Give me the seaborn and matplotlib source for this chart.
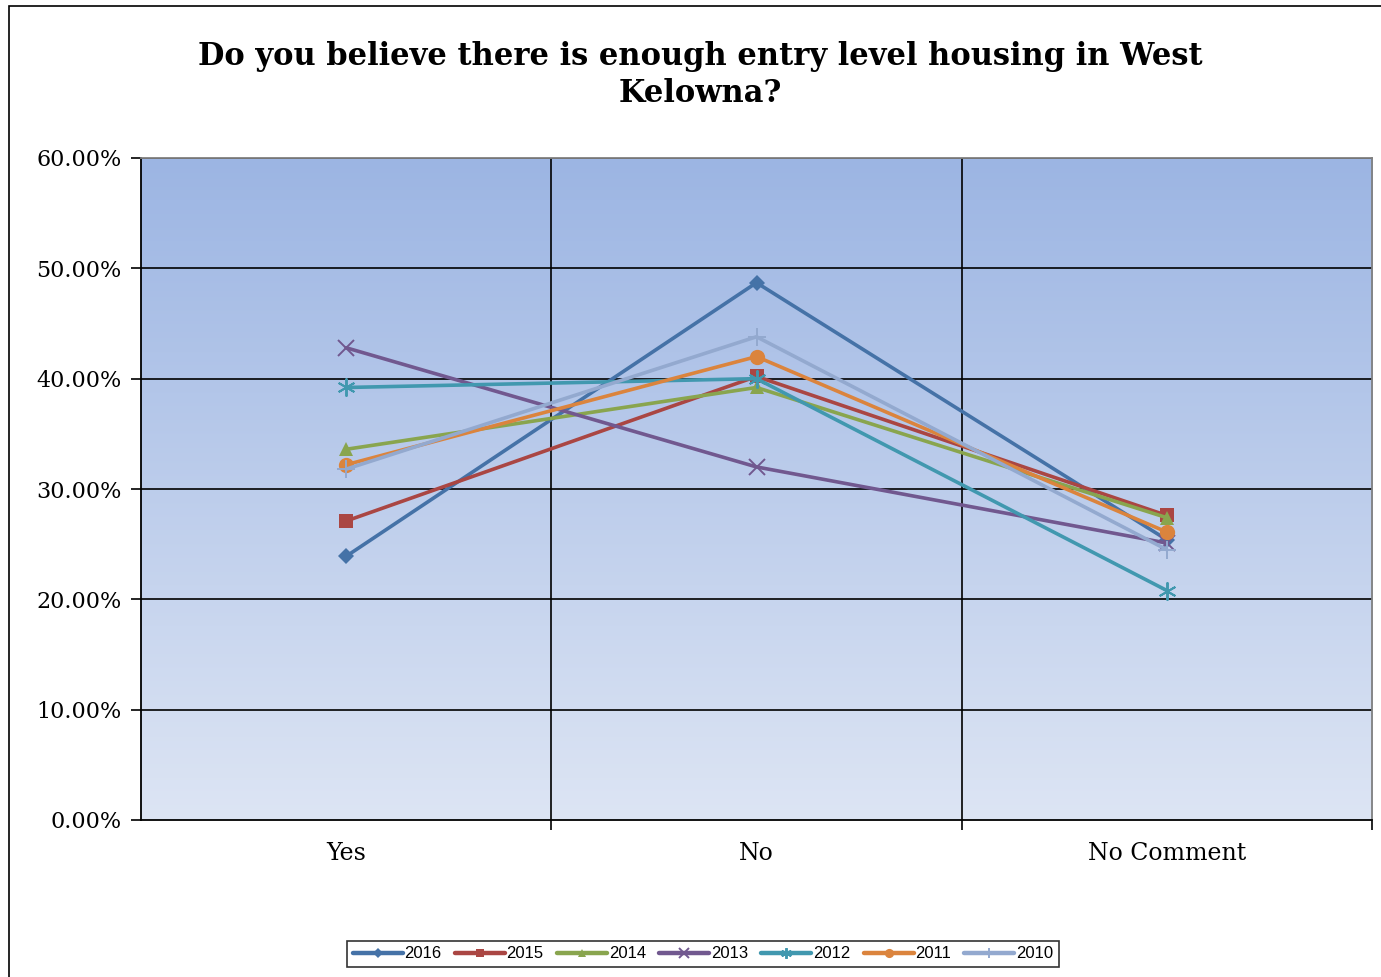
import numpy as np
import pandas as pd
import matplotlib
matplotlib.use('Agg')
import matplotlib.pyplot as plt
import seaborn as sns
from matplotlib.colors import LinearSegmentedColormap
from matplotlib.patches import Rectangle

# data (percent)
categories = ['Yes', 'No', 'No Comment']
years = ['2016', '2015', '2014', '2013', '2012', '2011', '2010']
v2016 = [23.9, 48.7, 25.4]
v2015 = [27.1, 40.2, 27.6]
v2014 = [33.6, 39.2, 27.4]
v2013 = [42.8, 32.0, 25.1]
v2012 = [39.2, 40.0, 20.8]
v2011 = [32.2, 42.0, 26.1]
v2010 = [31.8, 43.8, 24.5]
values = [v2016, v2015, v2014, v2013, v2012, v2011, v2010]

colors = ['#4572A7', '#AA4643', '#89A54E', '#71588F', '#4198AF', '#DB843D', '#93A9CF']
markers = ['D', 's', '^', 'x', (6, 2, 0), 'o', '+']
msizes = [8, 10, 10, 11, 13, 11, 13]

rows = []
for y, vals in zip(years, values):
    for c, v in zip(categories, vals):
        rows.append({'year': y, 'answer': c, 'pos': categories.index(c), 'pct': v / 100})
df = pd.DataFrame(rows)

sns.set_style('white')
plt.rcParams.update({'text.color': 'black', 'xtick.color': 'black', 'ytick.color': 'black',
                     'xtick.bottom': True, 'ytick.left': True})
fig = plt.figure(figsize=(13.81, 9.77), dpi=100)
ax = fig.add_axes([141/1381, 1-820/977, (1372-141)/1381, (820-158)/977])

# outer chart frame
fig.patches.append(Rectangle((9/1381, -0.05), 1.2, 1-6/977+0.05, transform=fig.transFigure,
                             fill=False, edgecolor='black', linewidth=1.2))

# gradient plot area
cmap = LinearSegmentedColormap.from_list('bg', ['#DDE5F4', '#9CB5E3'])
grad = np.linspace(0, 1, 256).reshape(-1, 1)
ax.imshow(grad, extent=[-0.5, 2.5, 0, 0.6], origin='lower', aspect='auto', cmap=cmap, zorder=0)

for y, col, m, ms in zip(years, colors, markers, msizes):
    sub = df[df['year'] == y]
    sns.lineplot(data=sub, x='pos', y='pct', ax=ax, color=col, linewidth=2.6,
                 marker=m, markersize=ms, markeredgewidth=1.4 if m in ('x', '+') or isinstance(m, tuple) else 0,
                 markeredgecolor=col, label=y, zorder=3)

ax.set_xlim(-0.5, 2.5)
ax.set_ylim(0, 0.6)
ax.set_yticks(np.arange(0, 0.61, 0.1))
ax.set_yticklabels([f'{t*100:.2f}%' for t in np.arange(0, 0.61, 0.1)])
ax.set_xticks([0, 1, 2])
ax.set_xticklabels(categories)
ax.set_xticks([0.5, 1.5, 2.5], minor=True)
ax.tick_params(axis='x', which='major', bottom=False, pad=12)
ax.tick_params(axis='x', which='minor', bottom=True, length=7, width=1.2, color='black', direction='out')
ax.tick_params(axis='y', left=True, length=7, width=1.2, color='black', direction='out', pad=7)
for lab in ax.get_yticklabels():
    lab.set_fontfamily('DejaVu Serif')
    lab.set_fontsize(16)
for lab in ax.get_xticklabels():
    lab.set_fontfamily('DejaVu Serif')
    lab.set_fontsize(17)

for yv in np.arange(0.1, 0.61, 0.1):
    ax.axhline(yv, color='black', linewidth=1.2, zorder=1)
for xv in [0.5, 1.5]:
    ax.axvline(xv, color='black', linewidth=1.2, zorder=1)

ax.set_xlabel('')
ax.set_ylabel('')
for s in ['left', 'bottom']:
    ax.spines[s].set_color('black')
    ax.spines[s].set_linewidth(1.3)
for s in ['top', 'right']:
    ax.spines[s].set_color('#808080')
    ax.spines[s].set_linewidth(1.3)

fig.text(0.507, 1-75/977, 'Do you believe there is enough entry level housing in West\nKelowna?',
         ha='center', va='center', fontsize=22, fontweight='bold', family='DejaVu Serif',
         linespacing=1.25, color='black')

ax.get_legend().remove()
handles, labels = ax.get_legend_handles_labels()
leg = fig.legend(handles, labels, loc='center', bbox_to_anchor=(703/1381, 1-954/977), ncol=7,
                 frameon=True, fancybox=False, edgecolor='black', handlelength=3.0,
                 handletextpad=0.1, columnspacing=0.8, borderpad=0.35,
                 prop={'family': 'Liberation Sans', 'size': 12}, markerscale=0.6)
leg.get_frame().set_linewidth(1.2)
for ln in leg.get_lines():
    ln.set_linewidth(3.2)

fig.savefig('out.png', dpi=100)
